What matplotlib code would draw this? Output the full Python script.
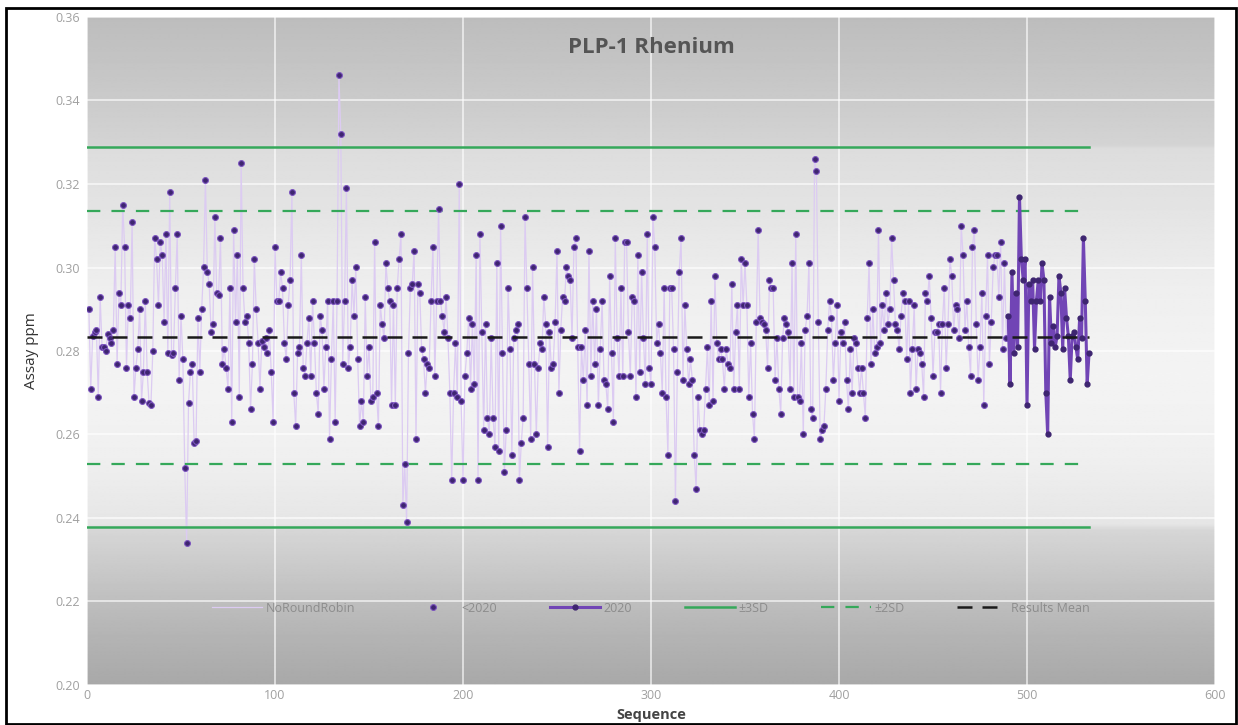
import numpy as np
import matplotlib
matplotlib.use('Agg')
import matplotlib.pyplot as plt
from matplotlib.patches import Rectangle

plt.rcParams['font.family'] = ['Open Sans', 'DejaVu Sans']

# ---- data ---------------------------------------------------------
before_2020 = [
    0.290, 0.271, 0.2835, 0.2845, 0.285, 0.269, 0.293, 0.281, 0.281, 0.280,
    0.284, 0.283, 0.282, 0.285, 0.305, 0.277, 0.294, 0.291, 0.315, 0.305,
    0.276, 0.291, 0.288, 0.311, 0.269, 0.276, 0.2805, 0.290, 0.268, 0.275,
    0.292, 0.275, 0.2675, 0.267, 0.280, 0.307, 0.302, 0.291, 0.306, 0.303,
    0.287, 0.308, 0.2795, 0.318, 0.279, 0.2795, 0.295, 0.308, 0.273, 0.2885,
    0.278, 0.252, 0.234, 0.2675, 0.275, 0.277, 0.258, 0.2585, 0.288, 0.275,
    0.290, 0.300, 0.321, 0.299, 0.296, 0.2845, 0.2865, 0.312, 0.294, 0.2935,
    0.307, 0.277, 0.2805, 0.276, 0.271, 0.295, 0.263, 0.309, 0.287, 0.303,
    0.269, 0.325, 0.295, 0.287, 0.2885, 0.282, 0.266,
    0.277, 0.302, 0.290, 0.282, 0.271, 0.2825, 0.281, 0.283, 0.2795, 0.285,
    0.275, 0.263, 0.305, 0.292, 0.292, 0.299, 0.295, 0.282, 0.278, 0.291,
    0.297, 0.318, 0.270, 0.262, 0.2795, 0.281, 0.303, 0.276, 0.274, 0.282,
    0.288, 0.274, 0.292, 0.282, 0.270, 0.265, 0.2885, 0.285, 0.271, 0.281,
    0.292, 0.259, 0.278, 0.292, 0.263, 0.292, 0.346, 0.332, 0.277, 0.292,
    0.319, 0.276, 0.281, 0.297, 0.2885, 0.300, 0.278, 0.262, 0.268, 0.263,
    0.293, 0.274, 0.281, 0.268, 0.269, 0.306, 0.270, 0.262, 0.291, 0.2865,
    0.283, 0.301, 0.295, 0.292, 0.267, 0.291, 0.267, 0.295, 0.302, 0.308,
    0.243, 0.253, 0.239, 0.2795, 0.295, 0.296, 0.304, 0.259,
    0.296, 0.294, 0.2805, 0.278, 0.270, 0.277, 0.276, 0.292, 0.305, 0.274,
    0.292, 0.314, 0.292, 0.2885, 0.2845, 0.293, 0.283, 0.270, 0.249, 0.270,
    0.282, 0.269, 0.320, 0.268, 0.249, 0.274, 0.2795, 0.288, 0.271, 0.2865,
    0.272, 0.303, 0.249, 0.308, 0.2845, 0.261, 0.2865, 0.264, 0.260, 0.283,
    0.264, 0.257, 0.301, 0.256, 0.310, 0.2795, 0.251, 0.261, 0.295, 0.2805,
    0.255, 0.283, 0.285, 0.2865, 0.249, 0.258, 0.264, 0.312, 0.295, 0.277,
    0.259, 0.300, 0.277, 0.260, 0.276, 0.282, 0.2805, 0.293, 0.2865, 0.257,
    0.2845, 0.276, 0.277, 0.287, 0.304, 0.270, 0.285, 0.293, 0.292, 0.300,
    0.298, 0.297, 0.283, 0.305, 0.307, 0.281, 0.256,
    0.281, 0.273, 0.285, 0.267, 0.304, 0.274, 0.292, 0.277, 0.290, 0.267,
    0.2805, 0.292, 0.273, 0.272, 0.266, 0.298, 0.2795, 0.263, 0.307, 0.283,
    0.274, 0.295, 0.274, 0.306, 0.306, 0.2845, 0.274, 0.293, 0.292, 0.269,
    0.303, 0.275, 0.299, 0.283, 0.272, 0.308, 0.276, 0.272, 0.312, 0.305,
    0.282, 0.2865, 0.2795, 0.270, 0.295, 0.269, 0.255, 0.295, 0.295, 0.2805,
    0.244, 0.275, 0.299, 0.307, 0.273, 0.291, 0.2805, 0.272, 0.278, 0.273,
    0.255, 0.247, 0.269, 0.261, 0.260, 0.261, 0.271, 0.281, 0.267, 0.292,
    0.268, 0.298, 0.282, 0.278, 0.2805, 0.278, 0.271, 0.2805, 0.277, 0.276,
    0.296, 0.271, 0.2845, 0.291, 0.271, 0.302,
    0.291, 0.301, 0.291, 0.269, 0.282, 0.265, 0.259, 0.287, 0.309, 0.288,
    0.287, 0.2865, 0.285, 0.276, 0.297, 0.295, 0.295, 0.273, 0.283, 0.271,
    0.265, 0.283, 0.288, 0.2865, 0.2845, 0.271, 0.301, 0.269, 0.308, 0.269,
    0.268, 0.282, 0.260, 0.285, 0.2885, 0.301, 0.266, 0.264, 0.326, 0.323,
    0.287, 0.259, 0.261, 0.262, 0.271, 0.285, 0.292, 0.288, 0.273, 0.282,
    0.291, 0.268, 0.2845, 0.282, 0.287, 0.273, 0.266, 0.2805, 0.270, 0.283,
    0.282, 0.276, 0.270, 0.276, 0.270, 0.264, 0.288, 0.301, 0.277, 0.290,
    0.2795, 0.281, 0.309, 0.282, 0.291, 0.285, 0.294, 0.2865, 0.290, 0.307,
    0.297, 0.2865, 0.285, 0.2805, 0.2885, 0.294, 0.292, 0.278, 0.292, 0.270,
    0.2805,
    0.291, 0.271, 0.2805, 0.2795, 0.277, 0.269, 0.294, 0.292, 0.298, 0.288,
    0.274, 0.2845, 0.2845, 0.2865, 0.270, 0.2865, 0.295, 0.276, 0.2865, 0.302,
    0.298, 0.285, 0.291, 0.290, 0.283, 0.310, 0.303, 0.285, 0.292, 0.281,
    0.274, 0.305, 0.309, 0.2865, 0.273, 0.281, 0.294, 0.267, 0.2885, 0.303,
    0.277, 0.287, 0.300, 0.303, 0.303, 0.293, 0.306, 0.2805, 0.301, 0.283,
]

year_2020 = [
    0.2885, 0.272, 0.299, 0.2795, 0.294, 0.281, 0.317, 0.302, 0.297, 0.302,
    0.267, 0.296, 0.292, 0.297, 0.2805, 0.292, 0.297, 0.292, 0.301, 0.297,
    0.270, 0.260, 0.293, 0.282, 0.286, 0.281, 0.2835, 0.298, 0.294, 0.2805,
    0.295, 0.288, 0.2835, 0.273, 0.2835, 0.2845, 0.281, 0.278, 0.288, 0.283,
    0.307, 0.292, 0.272, 0.2795,
]

mean_val = 0.2834
sd3 = (0.2378, 0.3288)
sd2 = (0.2530, 0.3136)

x_before = np.arange(1, len(before_2020) + 1)
x_2020 = np.arange(len(before_2020) + 1, len(before_2020) + len(year_2020) + 1)
x_all = np.concatenate([x_before, x_2020])
y_all = np.concatenate([before_2020, year_2020])
x_end = x_all[-1]

# ---- figure -------------------------------------------------------
fig = plt.figure(figsize=(12.38, 7.25), dpi=100)
ax = fig.add_axes([87 / 1238, 1 - 685 / 725, (1215 - 87) / 1238, (685 - 17) / 725])

# vertical grey gradient behind the plot
stops_v = [0.200, 0.215, 0.237, 0.2385, 0.255, 0.275, 0.295, 0.318, 0.3285, 0.3295, 0.345, 0.360]
stops_g = [0.66, 0.72, 0.84, 0.90, 0.94, 0.955, 0.935, 0.885, 0.865, 0.83, 0.78, 0.74]
yy = np.linspace(0.20, 0.36, 600)
grad = np.interp(yy, stops_v, stops_g)[:, None]
ax.imshow(np.repeat(grad, 2, axis=1), cmap='gray', vmin=0, vmax=1, aspect='auto',
          extent=[0, 600, 0.20, 0.36], origin='lower', zorder=0, interpolation='bilinear')

ax.set_xlim(0, 600)
ax.set_ylim(0.20, 0.36)
ax.set_xticks(np.arange(0, 601, 100))
ax.set_yticks(np.arange(0.20, 0.361, 0.02))
ax.yaxis.set_major_formatter(matplotlib.ticker.FormatStrFormatter('%.2f'))
ax.grid(True, color='white', lw=1.2, alpha=0.7, zorder=1)
for s in ax.spines.values():
    s.set_visible(False)
ax.tick_params(colors='#b0b0b0', labelcolor='#a0a0a0', labelsize=9, length=0, pad=5)
ax.tick_params(axis='x', pad=3)

# series
ax.plot(x_all, y_all, color='#dccbf2', lw=0.9, zorder=2, label='NoRoundRobin')
ax.plot(x_before, before_2020, ls='none', marker='o', ms=4.2, mfc='#3e2570',
        mec='#7d55c0', mew=0.8, zorder=4, label='<2020')
ax.plot(x_2020, year_2020, color='#7145b5', lw=2.2, marker='o', ms=3.5, mfc='#3e2570',
        mec='#3e2570', zorder=5, label='2020')

green = '#35a85a'
ax.plot([0, x_end], [sd3[1], sd3[1]], color=green, lw=1.8, zorder=3, label='±3SD')
ax.plot([0, x_end], [sd3[0], sd3[0]], color=green, lw=1.8, zorder=3)
ax.plot([0, x_end], [sd2[1], sd2[1]], color=green, lw=1.6, ls=(0, (6, 5)), zorder=3, label='±2SD')
ax.plot([0, x_end], [sd2[0], sd2[0]], color=green, lw=1.6, ls=(0, (6, 5)), zorder=3)
ax.plot([0, x_end], [mean_val, mean_val], color='#1a1a1a', lw=1.8, ls=(0, (6, 4)), zorder=6,
        label='Results Mean')

ax.text(0.5, 0.955, 'PLP-1 Rhenium', transform=ax.transAxes, ha='center', va='center',
        fontsize=16, fontweight='bold', color='#555555')

leg = ax.legend(loc='center', bbox_to_anchor=(0.5, 0.115), ncol=6, frameon=False,
                fontsize=9, handlelength=4, columnspacing=4.2, handletextpad=0.3)
for t in leg.get_texts():
    t.set_color('#8c8c8c')

ax.set_xlabel('Sequence', fontsize=10.5, fontweight='bold', color='#444444')
ax.xaxis.set_label_coords(0.5, -0.034)
ax.set_ylabel('Assay ppm', fontsize=11, color='#333333', labelpad=12)

# outer frame
fig.patches.append(Rectangle((6 / 1238, 0.002), 1230 / 1238, 1 - 8 / 725 - 0.002,
                             transform=fig.transFigure, fill=False, ec='black', lw=2))

fig.savefig('out.png', dpi=100)
